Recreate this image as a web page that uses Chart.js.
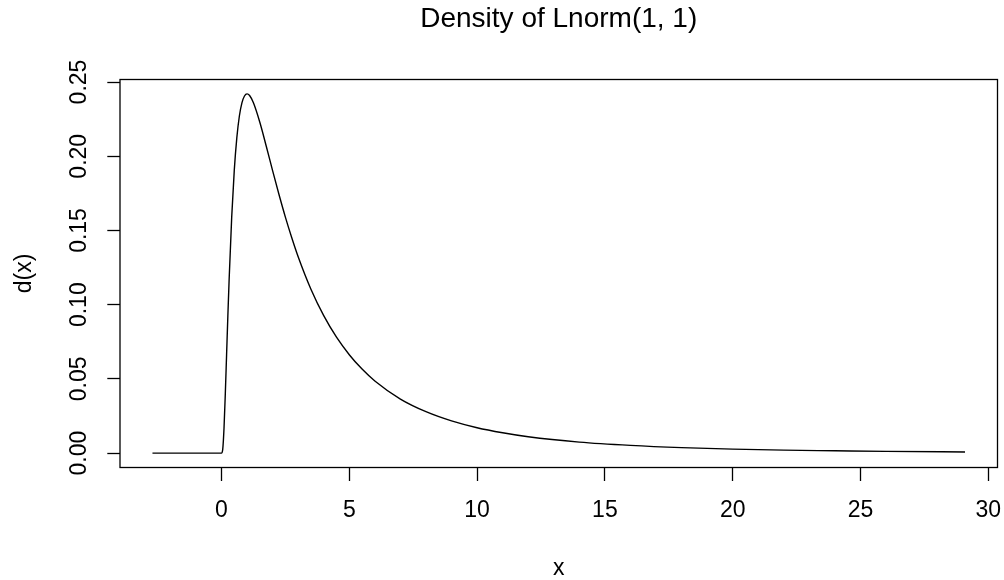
<!DOCTYPE html>
<html>
<head>
<meta charset="utf-8">
<script src="https://cdn.jsdelivr.net/npm/chart.js@4.4.0/dist/chart.umd.min.js"></script>
<style>
  html, body { margin: 0; padding: 0; background: #fff; }
  #grafico { display: block; }
</style>
</head>
<body>
<canvas id="grafico" width="1004" height="580"></canvas>
<script>
// valores
const xValores = [-2.70, 0, 0.05, 0.1, 0.15, 0.2, 0.25, 0.3, 0.4, 0.5, 0.6, 0.7, 0.8, 0.9, 1.0,
  1.1, 1.25, 1.5, 1.75, 2, 2.25, 2.5, 2.75, 3, 3.5, 4, 4.5, 5, 5.5, 6, 7, 8, 9, 10, 11, 12,
  14, 16, 18, 20, 22, 24, 26, 29.09];
const densidad = [0, 0, 0.0027, 0.0171, 0.0400, 0.0663, 0.0926, 0.1172, 0.1590, 0.1903, 0.2124,
  0.2271, 0.2360, 0.2406, 0.2420, 0.2409, 0.2360, 0.2229, 0.2069, 0.1903, 0.1742, 0.1590, 0.1451,
  0.1323, 0.1104, 0.0926, 0.0781, 0.0663, 0.0566, 0.0486, 0.0364, 0.0279, 0.0217, 0.0171, 0.0137,
  0.0110, 0.0074, 0.0052, 0.0037, 0.0027, 0.0020, 0.0016, 0.0012, 0.0008];
const xTicks = [0, 5, 10, 15, 20, 25, 30];
const yTicks = [0, 0.05, 0.10, 0.15, 0.20, 0.25];
const titulo = "Density of Lnorm(1, 1)";
const tituloX = "x";
const tituloY = "d(x)";

const fuente = "'Liberation Sans', Arial, sans-serif";

// marco alrededor del area del grafico (estilo R)
const marco = {
  id: "marco",
  afterDraw(chart) {
    const { ctx, chartArea: a } = chart;
    ctx.save();
    ctx.strokeStyle = "#000";
    ctx.lineWidth = 1.3;
    ctx.strokeRect(a.left, a.top, a.right - a.left, a.bottom - a.top);
    ctx.restore();
  }
};

const ctx = document.getElementById("grafico").getContext("2d");
new Chart(ctx, {
  type: "line",
  data: {
    datasets: [{
      data: xValores.map((x, i) => ({ x: x, y: densidad[i] })),
      borderColor: "#000",
      borderWidth: 1.4,
      pointRadius: 0,
      cubicInterpolationMode: "monotone",
      fill: false
    }]
  },
  options: {
    responsive: false,
    animation: false,
    events: [],
    layout: { padding: { left: 0, top: 0, right: 6.5, bottom: 0 } },
    plugins: {
      legend: { display: false },
      tooltip: { enabled: false },
      title: {
        display: true,
        fullSize: false,
        text: titulo,
        color: "#000",
        font: { family: fuente, size: 28, weight: "normal", lineHeight: 1.2 },
        padding: { top: 2, bottom: 43.9 }
      }
    },
    scales: {
      x: {
        type: "linear",
        min: -3.97,
        max: 30.36,
        afterBuildTicks: (s) => { s.ticks = xTicks.map(v => ({ value: v })); },
        afterFit: (s) => { s.height = 112.5; s.paddingLeft = 0; s.paddingRight = 0; },
        grid: { display: true, drawOnChartArea: false, drawTicks: true, tickLength: 13.5, tickColor: "#000", tickWidth: 1.3 },
        border: { display: false },
        ticks: {
          color: "#000",
          font: { family: fuente, size: 23, lineHeight: 1.2 },
          padding: 16,
          maxRotation: 0,
          autoSkip: false,
          callback: (v) => String(v)
        },
        title: {
          display: true,
          text: tituloX,
          color: "#000",
          font: { family: fuente, size: 23, lineHeight: 1 },
          padding: 0
        }
      },
      y: {
        min: -0.00968,
        max: 0.2517,
        afterBuildTicks: (s) => { s.ticks = yTicks.map(v => ({ value: v })); },
        afterFit: (s) => { s.width = 120; s.paddingTop = 0; s.paddingBottom = 0; },
        grid: { display: true, drawOnChartArea: false, drawTicks: true, tickLength: 12.7, tickColor: "#000", tickWidth: 1.3 },
        border: { display: false },
        ticks: {
          color: "#000",
          font: { family: fuente, size: 23, lineHeight: 1.2 },
          padding: 5,
          minRotation: 90,
          maxRotation: 90,
          crossAlign: "center",
          autoSkip: false,
          callback: (v) => v.toFixed(2)
        },
        title: {
          display: true,
          text: tituloY,
          color: "#000",
          font: { family: fuente, size: 23, lineHeight: 1.2 },
          padding: { top: 11.2, bottom: 0 }
        }
      }
    }
  },
  plugins: [marco]
});
</script>
</body>
</html>
